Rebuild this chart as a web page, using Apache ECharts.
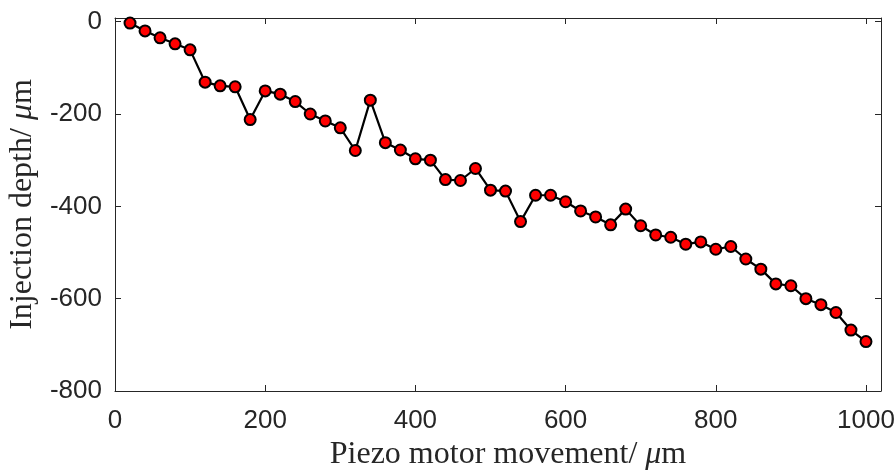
<!DOCTYPE html>
<html>
<head>
<meta charset="utf-8">
<script src="https://cdn.jsdelivr.net/npm/echarts@6/dist/echarts.min.js"></script>
<style>
  html, body { margin: 0; padding: 0; background: #ffffff; }
  #chart { width: 896px; height: 470px; }
</style>
</head>
<body>
<div id="chart"></div>
<script>
// Piezo motor movement (µm) against measured injection depth (µm)
const movement = [20, 40, 60, 80, 100, 120, 140, 160, 180, 200,
                  220, 240, 260, 280, 300, 320, 340, 360, 380, 400,
                  420, 440, 460, 480, 500, 520, 540, 560, 580, 600,
                  620, 640, 660, 680, 700, 720, 740, 760, 780, 800,
                  820, 840, 860, 880, 900, 920, 940, 960, 980, 1000];
const depth = [-3, -20, -35, -48, -61, -131, -139, -141, -212, -150,
               -157, -173, -200, -215, -230, -279, -170, -262, -278, -297,
               -300, -342, -344, -318, -365, -367, -433, -376, -376, -390,
               -410, -423, -440, -406, -442, -462, -467, -482, -477, -493,
               -487, -514, -536, -568, -572, -600, -613, -630, -668, -693];
const xTicks = [0, 200, 400, 600, 800, 1000];
const yTicks = [0, -200, -400, -600, -800];

const axisColor = '#262626';
const tickFont = { fontFamily: 'Liberation Sans', fontSize: 26, color: axisColor };
const titleFont = 'Liberation Serif';
const titleSize = 32;

const points = movement.map((x, i) => [x, depth[i]]);

const titleRich = {
  t: { fontFamily: titleFont, fontSize: titleSize, color: axisColor },
  m: { fontFamily: titleFont, fontSize: titleSize, fontStyle: 'italic', color: axisColor }
};

const xBase = {
  type: 'value', min: 0, max: 1020, interval: 200,
  axisLine: { show: true, onZero: false, lineStyle: { color: axisColor, width: 1 } },
  axisTick: { show: true, inside: true, length: 6, lineStyle: { color: axisColor, width: 1 },
              customValues: xTicks },
  splitLine: { show: false }
};
const yBase = {
  type: 'value', min: -800, max: 8, interval: 200,
  axisLine: { show: true, onZero: false, lineStyle: { color: axisColor, width: 1 } },
  axisTick: { show: true, inside: true, length: 6, lineStyle: { color: axisColor, width: 1 },
              customValues: yTicks },
  splitLine: { show: false }
};

const chart = echarts.init(document.getElementById('chart'), null, { renderer: 'canvas' });
chart.setOption({
  animation: false,
  backgroundColor: '#ffffff',
  grid: { left: 115, right: 15, top: 18, bottom: 79, containLabel: false, outerBoundsMode: 'none' },
  xAxis: [
    Object.assign({}, xBase, {
      position: 'bottom',
      axisLabel: Object.assign({ show: true, margin: 17, customValues: xTicks,
                                 formatter: v => String(v) }, tickFont),
      name: '{t|Piezo motor movement/ }{m|μ}{t|m}',
      nameLocation: 'middle',
      nameGap: 48,
      nameTextStyle: { rich: titleRich, padding: [0, 0, 0, 20] }
    }),
    Object.assign({}, xBase, { position: 'top', axisLabel: { show: false } })
  ],
  yAxis: [
    Object.assign({}, yBase, {
      position: 'left',
      axisLabel: Object.assign({ show: true, margin: 13, customValues: yTicks,
                                 padding: [6, 0, 0, 0],
                                 formatter: v => String(v) }, tickFont),
      name: '{t|Injection depth/ }{m|μ}{t|m}',
      nameLocation: 'middle',
      nameGap: 75,
      nameTextStyle: { rich: titleRich }
    }),
    Object.assign({}, yBase, { position: 'right', axisLabel: { show: false } })
  ],
  series: [{
    type: 'line',
    data: points,
    xAxisIndex: 0,
    yAxisIndex: 0,
    symbol: 'circle',
    symbolSize: 11,
    showAllSymbol: true,
    lineStyle: { color: '#000000', width: 2.2 },
    itemStyle: { color: '#ff0000', borderColor: '#000000', borderWidth: 2 },
    emphasis: { disabled: true },
    z: 5
  }]
});
</script>
</body>
</html>
